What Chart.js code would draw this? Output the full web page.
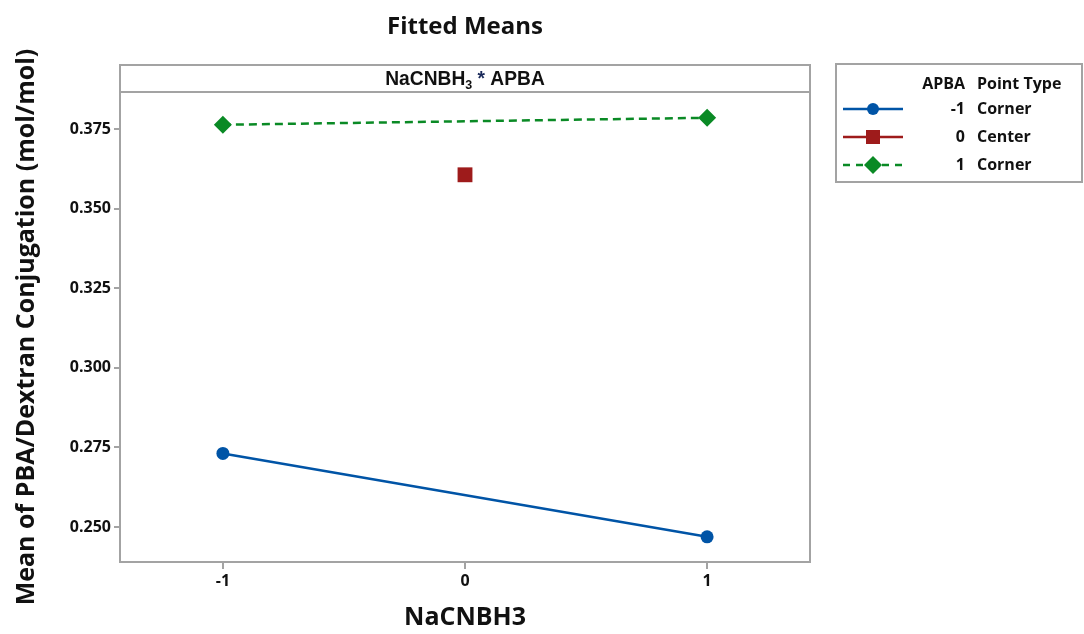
<!DOCTYPE html>
<html>
<head>
<meta charset="utf-8">
<title>Fitted Means</title>
<script src="https://cdn.jsdelivr.net/npm/chart.js@4.4.1/dist/chart.umd.min.js"></script>
<style>
  html, body { margin: 0; padding: 0; background: #ffffff; }
  #wrap { width: 1084px; height: 634px; }
</style>
</head>
<body>
<div id="wrap"><canvas id="c" width="1084" height="634"></canvas></div>
<script>
// NaCNBH3 factor levels (x) and APBA levels (series)
const nacnbhLevels = [-1, 1];
const centerLevel = [0];
const apbaLevels = ['-1', '0', '1'];
const pointTypes = ['Corner', 'Center', 'Corner'];

// Fitted means of PBA/Dextran conjugation (mol/mol)
const meansApbaLow = [0.2731, 0.2469];
const meansApbaCenter = [0.3606];
const meansApbaHigh = [0.3763, 0.3785];

// Axis tick labels
const yTicks = [0.250, 0.275, 0.300, 0.325, 0.350, 0.375];
const xTicks = [-1, 0, 1];

const COL_BLUE = '#0054A6';
const COL_RED = '#9E1B1B';
const COL_GREEN = '#0A8A25';
const FRAME = '#a3a3a3';
const TXT = '#111111';
const FONT = "'Open Sans', 'Noto Sans', sans-serif";

const toPoints = (xs, ys) => xs.map((x, i) => ({ x: x, y: ys[i] }));

const seriesStyles = [
  { color: COL_BLUE, marker: 'circle', dash: [] },
  { color: COL_RED, marker: 'rect', dash: [] },
  { color: COL_GREEN, marker: 'rectRot', dash: [8, 5] }
];

// Panel strip above the plot area plus the outer frame
const panelPlugin = {
  id: 'panel',
  afterDraw(chart) {
    const { ctx, chartArea: a } = chart;
    const stripTop = 65;
    ctx.save();
    ctx.strokeStyle = FRAME;
    ctx.lineWidth = 2;
    ctx.strokeRect(a.left, stripTop, a.right - a.left, a.bottom - stripTop);
    ctx.beginPath();
    ctx.moveTo(a.left, a.top);
    ctx.lineTo(a.right, a.top);
    ctx.stroke();

    // strip label: NaCNBH3 (subscript 3) * APBA, condensed bold
    const cx = (a.left + a.right) / 2;
    const cy = (stripTop + a.top) / 2 + 1;
    ctx.translate(cx, cy);
    ctx.scale(0.96, 1);
    ctx.textBaseline = 'middle';
    ctx.fillStyle = TXT;
    const big = "bold 20px 'Liberation Sans', Arial, sans-serif";
    const small = "bold 13px 'Liberation Sans', Arial, sans-serif";
    const parts = [
      { t: 'NaCNBH', f: big, dy: 0, c: TXT },
      { t: '3', f: small, dy: 6, c: TXT },
      { t: ' * ', f: big, dy: 0, c: '#1a2a5a' },
      { t: 'APBA', f: big, dy: 0, c: TXT }
    ];
    let total = 0;
    parts.forEach(p => { ctx.font = p.f; p.w = ctx.measureText(p.t).width; total += p.w; });
    let x = -total / 2;
    ctx.textAlign = 'left';
    parts.forEach(p => {
      ctx.font = p.f;
      ctx.fillStyle = p.c;
      ctx.fillText(p.t, x, p.dy);
      x += p.w;
    });
    ctx.restore();
  }
};

function drawMarker(ctx, kind, x, y, r, color) {
  ctx.fillStyle = color;
  ctx.beginPath();
  if (kind === 'circle') {
    ctx.arc(x, y, r, 0, Math.PI * 2);
  } else if (kind === 'rect') {
    ctx.rect(x - r, y - r, 2 * r, 2 * r);
  } else {
    ctx.moveTo(x, y - r);
    ctx.lineTo(x + r, y);
    ctx.lineTo(x, y + r);
    ctx.lineTo(x - r, y);
    ctx.closePath();
  }
  ctx.fill();
}

// Two-column legend: APBA level and point type
const legendPlugin = {
  id: 'apbaLegend',
  afterDraw(chart) {
    const { ctx } = chart;
    const bx = 836, by = 64, bw = 246, bh = 118;
    ctx.save();
    ctx.strokeStyle = FRAME;
    ctx.lineWidth = 2;
    ctx.strokeRect(bx, by, bw, bh);

    const colRight = 965, colType = 977;
    ctx.fillStyle = TXT;
    ctx.textBaseline = 'middle';
    ctx.font = '700 16px ' + FONT;
    ctx.textAlign = 'right';
    ctx.fillText('APBA', colRight, 84);
    ctx.textAlign = 'left';
    ctx.fillText('Point Type', colType, 84);

    const rowY = [109, 137, 165];
    const markerR = [6, 7, 9];
    apbaLevels.forEach((lvl, i) => {
      const st = seriesStyles[i];
      const y = rowY[i];
      ctx.strokeStyle = st.color;
      ctx.lineWidth = 2.5;
      ctx.setLineDash(st.dash.length ? [7, 6] : []);
      ctx.beginPath();
      ctx.moveTo(843, y);
      ctx.lineTo(903, y);
      ctx.stroke();
      ctx.setLineDash([]);
      drawMarker(ctx, st.marker, 873, y, markerR[i], st.color);

      ctx.fillStyle = TXT;
      ctx.font = '700 16px ' + FONT;
      ctx.textAlign = 'right';
      ctx.fillText(lvl, colRight, y);
      ctx.textAlign = 'left';
      ctx.fillText(pointTypes[i], colType, y);
    });
    ctx.restore();
  }
};

const datasets = [
  {
    label: apbaLevels[0] + ' ' + pointTypes[0],
    data: toPoints(nacnbhLevels, meansApbaLow),
    borderColor: COL_BLUE, backgroundColor: COL_BLUE,
    borderWidth: 2.5, pointStyle: 'circle', pointRadius: 6.5, pointHoverRadius: 6.5,
    pointBorderWidth: 0
  },
  {
    label: apbaLevels[1] + ' ' + pointTypes[1],
    data: toPoints(centerLevel, meansApbaCenter),
    borderColor: COL_RED, backgroundColor: COL_RED,
    borderWidth: 2, pointStyle: 'rect', pointRadius: 10.5, pointHoverRadius: 10.5,
    pointBorderWidth: 0, showLine: false
  },
  {
    label: apbaLevels[2] + ' ' + pointTypes[2],
    data: toPoints(nacnbhLevels, meansApbaHigh),
    borderColor: COL_GREEN, backgroundColor: COL_GREEN,
    borderWidth: 2.5, borderDash: [8, 5], pointStyle: 'rectRot', pointRadius: 9, pointHoverRadius: 9,
    pointBorderWidth: 0
  }
];

new Chart(document.getElementById('c'), {
  type: 'scatter',
  data: { datasets: datasets },
  plugins: [panelPlugin, legendPlugin],
  options: {
    responsive: false,
    animation: false,
    showLine: true,
    layout: { padding: { left: 0, right: 274, top: 0, bottom: 0 } },
    plugins: {
      legend: { display: false },
      tooltip: { enabled: false },
      title: {
        display: true,
        text: 'Fitted Means',
        fullSize: false,
        color: TXT,
        font: { family: FONT, size: 24, weight: '700', lineHeight: 1.2 },
        padding: { top: 13, bottom: 50.2 }
      }
    },
    scales: {
      x: {
        type: 'linear',
        min: -1.425, max: 1.425,
        afterFit(scale) { scale.height = 72; },
        afterBuildTicks(scale) { scale.ticks = xTicks.map(v => ({ value: v })); },
        grid: { drawOnChartArea: false, drawTicks: true, tickLength: 7, color: FRAME, lineWidth: 2 },
        border: { display: false },
        ticks: {
          color: TXT, padding: 3,
          font: { family: FONT, size: 16, weight: '700' },
          callback: v => String(v)
        },
        title: {
          display: true, text: 'NaCNBH3', color: TXT,
          font: { family: FONT, size: 25, weight: '700', lineHeight: 1.2 },
          padding: { top: 0, bottom: 1 }
        }
      },
      y: {
        type: 'linear',
        min: 0.2390, max: 0.3866,
        afterFit(scale) { scale.width = 120; },
        afterBuildTicks(scale) { scale.ticks = yTicks.map(v => ({ value: v })); },
        grid: { drawOnChartArea: false, drawTicks: true, tickLength: 6, color: FRAME, lineWidth: 2 },
        border: { display: false },
        ticks: {
          color: TXT, padding: 3,
          font: { family: FONT, size: 16, weight: '700' },
          callback: v => v.toFixed(3)
        },
        title: {
          display: true, text: 'Mean of PBA/Dextran Conjugation (mol/mol)', color: TXT,
          font: { family: FONT, size: 25, weight: '700', lineHeight: 1.2 },
          padding: { top: 12, bottom: 0 }
        }
      }
    }
  }
});
</script>
</body>
</html>
